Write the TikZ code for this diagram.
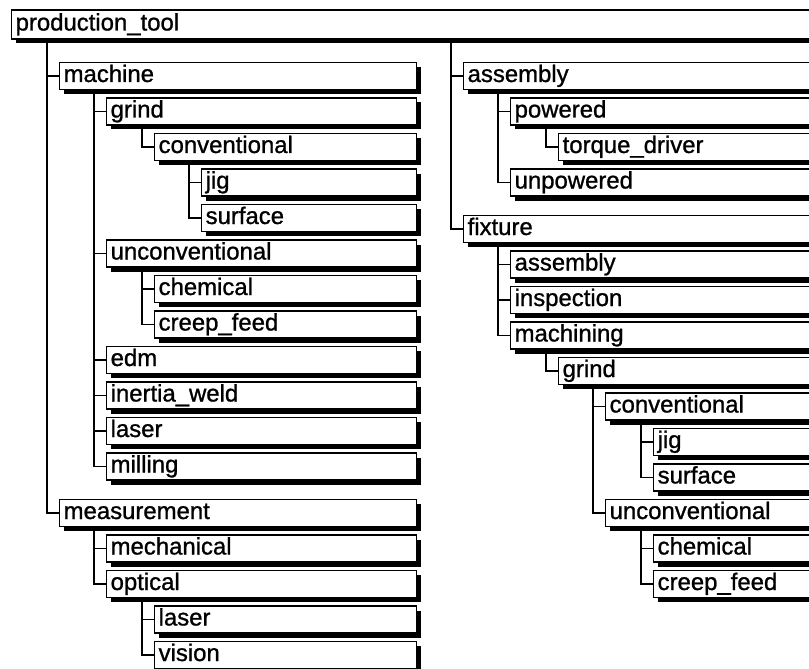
\documentclass[tikz,border=0pt]{standalone}
\usepackage{fontspec}
\setmainfont{Liberation Sans}
\newfontfamily\boxfont{Liberation Sans}[FakeBold=1.0]
\usetikzlibrary{shadows}

% one branch of the outline: vertical rail 12bp left of the child, tick into the child
\newcommand\treelink[2]{%
  \path ([xshift=-12bp]#2.west) coordinate (railpt);
  \draw[conn] (#1.south -| railpt) |- (#2.west);}

\tikzset{
  item/.style={draw=black, line width=1.3bp, fill=white, anchor=west,
    inner xsep=4bp, inner ysep=2.5bp, text height=17bp, text depth=5bp,
    minimum height=27bp, align=left,
    font=\boxfont\fontsize{24}{27}\selectfont,
    drop shadow={shadow xshift=4.5bp, shadow yshift=-4.5bp, fill=black, opacity=1}},
  top/.style={item, text width=821bp, minimum height=29bp},
  % left column, boxes end at x = 416
  la/.style={item, text width=349bp},
  lb/.style={item, text width=302bp},
  lc/.style={item, text width=254bp},
  ld/.style={item, text width=207bp},
  % right column, boxes run past the right margin
  ra/.style={item, text width=369bp},
  rb/.style={item, text width=322bp},
  rc/.style={item, text width=274bp},
  rd/.style={item, text width=227bp},
  re/.style={item, text width=179bp},
  conn/.style={draw=black, line width=1.3bp}
}

\begin{document}
\begin{tikzpicture}[x=1bp, y=-1bp]
\useasboundingbox (0,0) rectangle (809,669);
\clip (0,0) rectangle (809,669);

\node[top] (pt) at (11,24.5) {production\_tool};

% left column
\node[la] (m)    at (59,76)    {machine};
\node[lb] (mg)   at (106,111.5) {grind};
\node[lc] (mgc)  at (154,147)  {conventional};
\node[ld] (mgcj) at (201,182.5) {jig};
\node[ld] (mgcs) at (201,218)  {surface};
\node[lb] (mu)   at (106,253.5) {unconventional};
\node[lc] (muc)  at (154,289)  {chemical};
\node[lc] (muf)  at (154,324.5) {creep\_feed};
\node[lb] (me)   at (106,360)  {edm};
\node[lb] (mi)   at (106,395.5) {inertia\_weld};
\node[lb] (ml)   at (106,431)  {laser};
\node[lb] (mm)   at (106,466.5) {milling};
\node[la] (ms)   at (59,513)   {measurement};
\node[lb] (msm)  at (106,548.5) {mechanical};
\node[lb] (mso)  at (106,584)  {optical};
\node[lc] (msol) at (154,619.5) {laser};
\node[lc] (msov) at (154,655)  {vision};

% right column
\node[ra] (a)     at (463,76)    {assembly};
\node[rb] (ap)    at (510,111.5) {powered};
\node[rc] (apt)   at (558,147)   {torque\_driver};
\node[rb] (au)    at (510,182.5) {unpowered};
\node[ra] (f)     at (463,229)   {fixture};
\node[rb] (fa)    at (510,264.5) {assembly};
\node[rb] (fi)    at (510,300)   {inspection};
\node[rb] (fm)    at (510,335.5) {machining};
\node[rc] (fmg)   at (558,371)   {grind};
\node[rd] (fmgc)  at (605,406.5) {conventional};
\node[re] (fmgcj) at (653,442)   {jig};
\node[re] (fmgcs) at (653,477.5) {surface};
\node[rd] (fmgu)  at (605,513)   {unconventional};
\node[re] (fmguc) at (653,548.5) {chemical};
\node[re] (fmguf) at (653,584)   {creep\_feed};

% connectors
\treelink{pt}{m}   \treelink{pt}{ms}
\treelink{pt}{a}   \treelink{pt}{f}
\treelink{m}{mg}   \treelink{m}{mu}  \treelink{m}{me}
\treelink{m}{mi}   \treelink{m}{ml}  \treelink{m}{mm}
\treelink{mg}{mgc}
\treelink{mgc}{mgcj} \treelink{mgc}{mgcs}
\treelink{mu}{muc} \treelink{mu}{muf}
\treelink{ms}{msm} \treelink{ms}{mso}
\treelink{mso}{msol} \treelink{mso}{msov}
\treelink{a}{ap}   \treelink{a}{au}
\treelink{ap}{apt}
\treelink{f}{fa}   \treelink{f}{fi}  \treelink{f}{fm}
\treelink{fm}{fmg}
\treelink{fmg}{fmgc} \treelink{fmg}{fmgu}
\treelink{fmgc}{fmgcj} \treelink{fmgc}{fmgcs}
\treelink{fmgu}{fmguc} \treelink{fmgu}{fmguf}
\end{tikzpicture}
\end{document}
